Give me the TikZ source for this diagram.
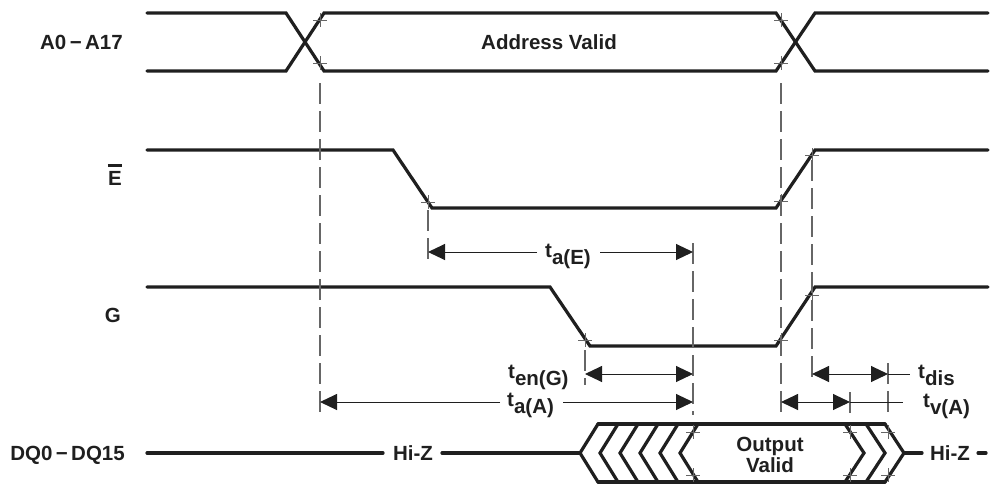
\documentclass[tikz,border=0pt]{standalone}
\usepackage{fontspec}
\setmainfont{Liberation Sans}
\usetikzlibrary{arrows.meta}
\begin{document}
\begin{tikzpicture}[x=1pt,y=-1pt,
  sig/.style={line width=3.2pt, line cap=round, line join=miter, draw=black!88},
  guide/.style={line width=1.1pt, draw=black!60, dash pattern=on 21pt off 7pt},
  tk/.style={line width=1pt, draw=black!60},
  dim/.style={line width=1pt, draw=black!88},
  tip/.style={-{Triangle[length=17pt,width=16pt]}},
  both/.style={{Triangle[length=17pt,width=16pt]}-{Triangle[length=17pt,width=16pt]}},
  lbl/.style={font=\fontsize{20.5}{24}\selectfont\bfseries, inner sep=0pt, text=black!88},
  cross/.pic={\draw[tk] (-7,0) -- (7,0) (0,-7) -- (0,7);}
]
\useasboundingbox (0,0) rectangle (990,485);

% ---------- signal labels ----------
\node[lbl, anchor=base east] (lA) at (123,49) {A0\,−\,A17};
\node[lbl, anchor=base east] (lE) at (122,185) {E};
\draw[line width=2.6pt, black!88] ([yshift=5pt]lE.north west) -- ([yshift=5pt]lE.north east);
\node[lbl, anchor=base east] (lG) at (121,322) {G};
\node[lbl, anchor=base east] (lD) at (125,460) {DQ0\,−\,DQ15};

% ---------- address bus ----------
\draw[sig] (147,13) -- (286,13) -- (324,71) -- (776,71) -- (815,13) -- (988,13);
\draw[sig] (147,71) -- (286,71) -- (324,13) -- (776,13) -- (815,71) -- (988,71);
\node[lbl, anchor=base] (av) at (549,49) {Address Valid};

% ---------- E ----------
\draw[sig] (147,150) -- (393,150) -- (432,208) -- (776,208) -- (815,150) -- (988,150);
% ---------- G ----------
\draw[sig] (147,287) -- (550,287) -- (590,346) -- (776,346) -- (815,287) -- (988,287);

% ---------- DQ ----------
\draw[sig] (147,453) -- (383,453);
\node[lbl, anchor=base] (hz1) at (413,460) {Hi-Z};
\draw[sig] (442,453) -- (580,453);
\draw[sig] (598,424) -- (885,424);
\draw[sig] (598,482) -- (885,482);
\foreach \i in {0,...,5}{
  \draw[sig] ({598+20*\i},424) -- ({580+20*\i},453) -- ({598+20*\i},482);
}
\draw[sig] (845,424) -- (864,453) -- (845,482);
\draw[sig] (866,424) -- (885,453) -- (866,482);
\draw[sig] (885,424) -- (904,453) -- (885,482);
\draw[sig] (904,453) -- (922,453);
\node[lbl, anchor=base] (hz2) at (950,460) {Hi-Z};
\draw[sig] (978,453) -- (986,453);
\node[lbl, anchor=base] (ov1) at (770,451) {Output};
\node[lbl, anchor=base] (ov2) at (770,472) {Valid};

% ---------- ticks ----------
\foreach \p in {(320,20),(320,63),(781,20),(781,63),
                (428,202),(781,201),(812,155),
                (585,340),(781,340),(812,295),
                (693,432),(693,475),(850,432),(850,475),(888,432),(888,475)}
  \pic at \p {cross};

% ---------- guides ----------
\draw[guide] (320,83) -- (320,412);
\draw[guide] (781,83) -- (781,412);
\draw[guide] (428,210) -- (428,262);
\draw[guide] (693,243) -- (693,415);
\draw[guide] (585,350) -- (585,385);
\draw[guide] (812,160) -- (812,383);
\draw[guide] (850,392) -- (850,415);
\draw[guide] (888,363) -- (888,415);

% ---------- dimension arrows ----------
\coordinate (aE1) at (428,252); \coordinate (aE2) at (693,252);
\draw[dim,tip] (537,252) -- (aE1);
\draw[dim,tip] (600,252) -- (aE2);
\node[lbl, anchor=base west] (taE) at (545,257) {t\raisebox{-7pt}{a(E)}};

\coordinate (eG1) at (585,374); \coordinate (eG2) at (693,374);
\draw[dim,both] (eG1) -- (eG2);
\node[lbl, anchor=base west] (tenG) at (508,378) {t\raisebox{-7pt}{en(G)}};

\coordinate (aA1) at (320,402); \coordinate (aA2) at (693,402);
\draw[dim,tip] (500,402) -- (aA1);
\draw[dim,tip] (563,402) -- (aA2);
\node[lbl, anchor=base west] (taA) at (507,406) {t\raisebox{-7pt}{a(A)}};

\coordinate (d1) at (812,374); \coordinate (d2) at (888,374); \coordinate (d3) at (910,374);
\draw[dim,both] (d1) -- (d2);
\draw[dim] (d2) -- (d3);
\node[lbl, anchor=base west] (tdis) at (918,378) {t\raisebox{-7pt}{dis}};

\coordinate (v1) at (781,402); \coordinate (v2) at (850,402); \coordinate (v3) at (903,402);
\draw[dim,both] (v1) -- (v2);
\draw[dim] (v2) -- (v3);
\node[lbl, anchor=base west] (tvA) at (923,407) {t\raisebox{-7pt}{v(A)}};
\end{tikzpicture}
\end{document}
